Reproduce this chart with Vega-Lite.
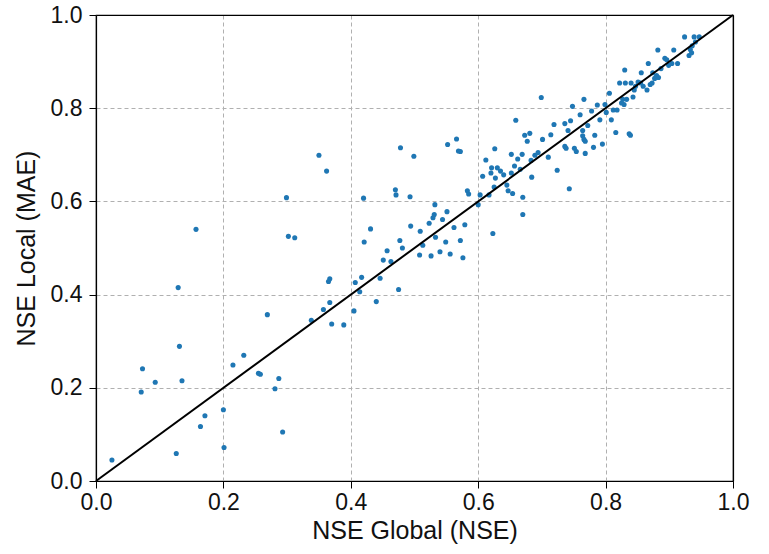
{
  "$schema": "https://vega.github.io/schema/vega-lite/v6.json",
  "width": 637,
  "height": 466,
  "autosize": {"type": "none"},
  "padding": {"left": 96, "top": 15, "right": 36, "bottom": 73},
  "background": "white",
  "config": {
    "view": {"stroke": "black", "strokeWidth": 1.2},
    "font": "Liberation Sans",
    "axis": {
      "labelFont": "Liberation Sans",
      "titleFont": "Liberation Sans",
      "labelFontSize": 23,
      "titleFontSize": 25,
      "titleFontWeight": "normal",
      "labelColor": "#111111",
      "titleColor": "#111111",
      "domainColor": "black",
      "domainWidth": 1.2,
      "tickColor": "black",
      "tickSize": 7,
      "labelFlush": false,
      "labelOverlap": false,
      "gridColor": "#b0b0b0",
      "gridDash": [4, 3],
      "gridWidth": 1
    }
  },
  "datasets": {
    "pts": [
      {"g":0.025,"l":0.045},{"g":0.073,"l":0.241},{"g":0.071,"l":0.191},{"g":0.093,"l":0.212},
      {"g":0.126,"l":0.059},{"g":0.129,"l":0.415},{"g":0.131,"l":0.289},{"g":0.135,"l":0.215},
      {"g":0.157,"l":0.540},{"g":0.164,"l":0.117},{"g":0.171,"l":0.140},{"g":0.200,"l":0.153},
      {"g":0.201,"l":0.072},{"g":0.215,"l":0.249},{"g":0.232,"l":0.270},{"g":0.255,"l":0.231},
      {"g":0.258,"l":0.229},{"g":0.269,"l":0.357},{"g":0.281,"l":0.198},{"g":0.287,"l":0.220},
      {"g":0.293,"l":0.105},{"g":0.299,"l":0.608},{"g":0.302,"l":0.525},{"g":0.312,"l":0.522},
      {"g":0.338,"l":0.345},{"g":0.350,"l":0.699},{"g":0.357,"l":0.368},{"g":0.362,"l":0.665},
      {"g":0.367,"l":0.434},{"g":0.365,"l":0.428},{"g":0.367,"l":0.383},{"g":0.370,"l":0.337},
      {"g":0.389,"l":0.335},{"g":0.405,"l":0.365},{"g":0.407,"l":0.426},{"g":0.414,"l":0.406},
      {"g":0.417,"l":0.437},{"g":0.420,"l":0.607},{"g":0.421,"l":0.513},{"g":0.431,"l":0.541},
      {"g":0.440,"l":0.385},{"g":0.446,"l":0.435},{"g":0.451,"l":0.474},{"g":0.457,"l":0.494},
      {"g":0.463,"l":0.471},{"g":0.470,"l":0.625},{"g":0.471,"l":0.614},{"g":0.475,"l":0.411},
      {"g":0.477,"l":0.516},{"g":0.478,"l":0.715},{"g":0.481,"l":0.500},{"g":0.493,"l":0.610},
      {"g":0.494,"l":0.547},{"g":0.499,"l":0.697},{"g":0.508,"l":0.485},{"g":0.509,"l":0.536},
      {"g":0.513,"l":0.506},{"g":0.523,"l":0.553},{"g":0.526,"l":0.483},{"g":0.529,"l":0.565},
      {"g":0.531,"l":0.572},{"g":0.532,"l":0.593},{"g":0.533,"l":0.523},{"g":0.540,"l":0.492},
      {"g":0.544,"l":0.561},{"g":0.549,"l":0.513},{"g":0.551,"l":0.578},{"g":0.552,"l":0.722},
      {"g":0.556,"l":0.487},{"g":0.562,"l":0.544},{"g":0.566,"l":0.734},{"g":0.569,"l":0.708},
      {"g":0.572,"l":0.707},{"g":0.572,"l":0.516},{"g":0.576,"l":0.479},{"g":0.579,"l":0.550},
      {"g":0.583,"l":0.623},{"g":0.585,"l":0.616},{"g":0.600,"l":0.593},{"g":0.603,"l":0.614},
      {"g":0.607,"l":0.654},{"g":0.612,"l":0.689},{"g":0.617,"l":0.614},{"g":0.620,"l":0.661},
      {"g":0.621,"l":0.672},{"g":0.623,"l":0.531},{"g":0.625,"l":0.631},{"g":0.626,"l":0.713},
      {"g":0.627,"l":0.650},{"g":0.630,"l":0.672},{"g":0.635,"l":0.665},{"g":0.640,"l":0.657},
      {"g":0.645,"l":0.635},{"g":0.647,"l":0.623},{"g":0.652,"l":0.701},{"g":0.652,"l":0.661},
      {"g":0.654,"l":0.617},{"g":0.657,"l":0.676},{"g":0.659,"l":0.774},{"g":0.662,"l":0.691},
      {"g":0.666,"l":0.669},{"g":0.669,"l":0.701},{"g":0.670,"l":0.572},{"g":0.670,"l":0.609},
      {"g":0.673,"l":0.742},{"g":0.677,"l":0.729},{"g":0.681,"l":0.746},{"g":0.683,"l":0.688},
      {"g":0.684,"l":0.652},{"g":0.689,"l":0.699},{"g":0.694,"l":0.705},{"g":0.699,"l":0.823},
      {"g":0.701,"l":0.733},{"g":0.710,"l":0.695},{"g":0.714,"l":0.743},{"g":0.719,"l":0.765},
      {"g":0.724,"l":0.667},{"g":0.736,"l":0.767},{"g":0.736,"l":0.718},{"g":0.738,"l":0.714},
      {"g":0.741,"l":0.752},{"g":0.743,"l":0.627},{"g":0.745,"l":0.773},{"g":0.748,"l":0.804},
      {"g":0.751,"l":0.714},{"g":0.754,"l":0.707},{"g":0.760,"l":0.786},{"g":0.764,"l":0.752},
      {"g":0.764,"l":0.741},{"g":0.766,"l":0.819},{"g":0.766,"l":0.733},{"g":0.768,"l":0.703},
      {"g":0.768,"l":0.729},{"g":0.772,"l":0.763},{"g":0.778,"l":0.794},{"g":0.781,"l":0.716},
      {"g":0.783,"l":0.742},{"g":0.787,"l":0.807},{"g":0.791,"l":0.775},{"g":0.795,"l":0.723},
      {"g":0.799,"l":0.808},{"g":0.801,"l":0.791},{"g":0.806,"l":0.832},{"g":0.809,"l":0.775},
      {"g":0.812,"l":0.796},{"g":0.816,"l":0.748},{"g":0.818,"l":0.796},{"g":0.822,"l":0.854},
      {"g":0.825,"l":0.811},{"g":0.827,"l":0.819},{"g":0.829,"l":0.808},{"g":0.830,"l":0.882},
      {"g":0.831,"l":0.854},{"g":0.833,"l":0.819},{"g":0.837,"l":0.745},{"g":0.839,"l":0.742},
      {"g":0.840,"l":0.854},{"g":0.843,"l":0.824},{"g":0.845,"l":0.839},{"g":0.847,"l":0.847},
      {"g":0.851,"l":0.856},{"g":0.855,"l":0.854},{"g":0.856,"l":0.876},{"g":0.859,"l":0.847},
      {"g":0.865,"l":0.839},{"g":0.867,"l":0.896},{"g":0.870,"l":0.851},{"g":0.873,"l":0.854},
      {"g":0.874,"l":0.876},{"g":0.877,"l":0.864},{"g":0.880,"l":0.870},{"g":0.882,"l":0.925},
      {"g":0.883,"l":0.866},{"g":0.887,"l":0.885},{"g":0.893,"l":0.907},{"g":0.896,"l":0.904},
      {"g":0.899,"l":0.892},{"g":0.904,"l":0.896},{"g":0.907,"l":0.925},{"g":0.913,"l":0.896},
      {"g":0.924,"l":0.953},{"g":0.931,"l":0.913},{"g":0.933,"l":0.926},{"g":0.935,"l":0.919},
      {"g":0.936,"l":0.934},{"g":0.939,"l":0.953},{"g":0.941,"l":0.942},{"g":0.947,"l":0.953}
    ],
    "diag": [{"g":0,"l":0},{"g":1,"l":1}]
  },
  "layer": [
    {
      "data": {"name": "pts"},
      "mark": {"type": "circle", "color": "#1f77b4", "opacity": 1, "size": 26},
      "encoding": {
        "x": {"field": "g", "type": "quantitative", "title": "NSE Global (NSE)",
              "scale": {"domain": [0, 1], "nice": false},
              "axis": {"values": [0, 0.2, 0.4, 0.6, 0.8, 1.0], "format": ".1f", "titlePadding": 4, "labelPadding": 3}},
        "y": {"field": "l", "type": "quantitative", "title": "NSE Local (MAE)",
              "scale": {"domain": [0, 1], "nice": false},
              "axis": {"values": [0, 0.2, 0.4, 0.6, 0.8, 1.0], "format": ".1f", "titlePadding": 11, "labelPadding": 7}}
      }
    },
    {
      "data": {"name": "diag"},
      "mark": {"type": "line", "color": "black", "strokeWidth": 2},
      "encoding": {
        "x": {"field": "g", "type": "quantitative", "scale": {"domain": [0, 1], "nice": false},
              "axis": {"orient": "top", "labels": false, "ticks": false, "grid": false, "title": null, "domain": true}},
        "y": {"field": "l", "type": "quantitative", "scale": {"domain": [0, 1], "nice": false},
              "axis": {"orient": "right", "labels": false, "ticks": false, "grid": false, "title": null, "domain": true}}
      }
    }
  ],
  "resolve": {"axis": {"x": "independent", "y": "independent"}}
}
